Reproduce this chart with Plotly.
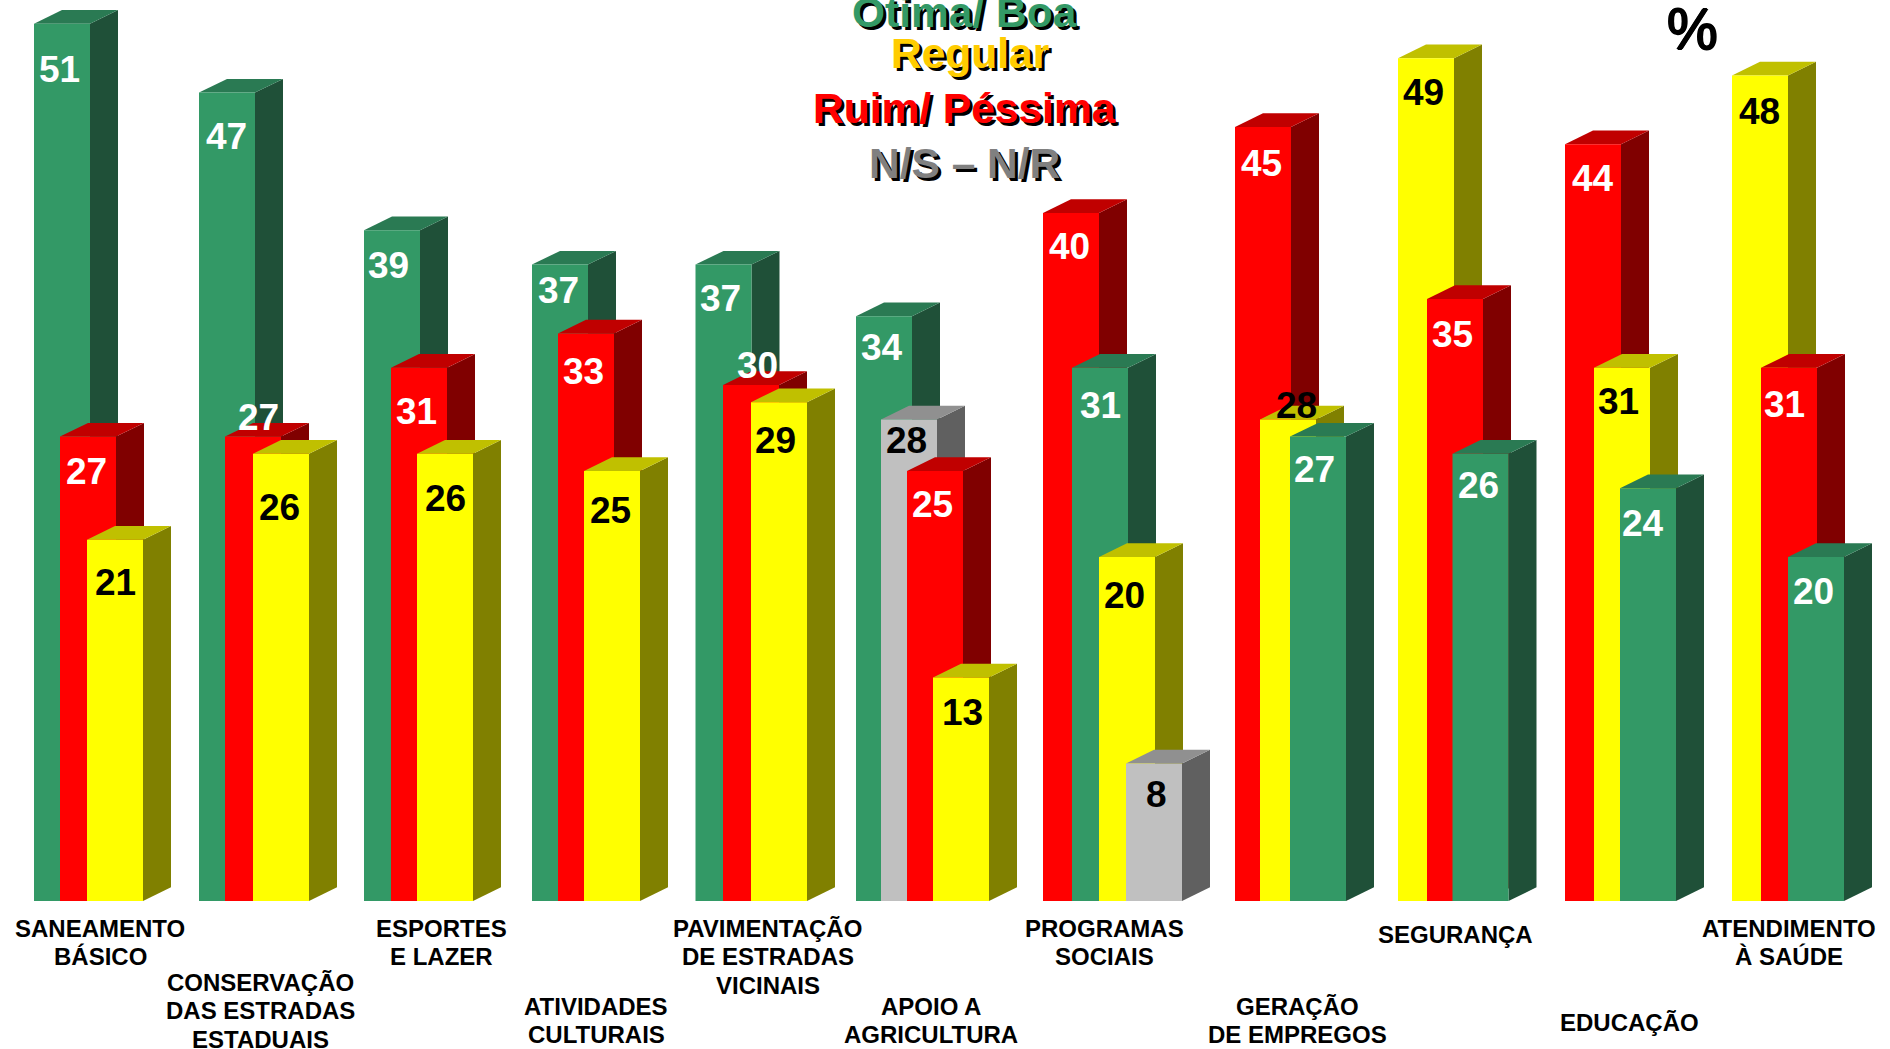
import plotly.graph_objects as go

categories = [
    "SANEAMENTO<br>BÁSICO", "CONSERVAÇÃO<br>DAS ESTRADAS<br>ESTADUAIS", "ESPORTES<br>E LAZER",
    "ATIVIDADES<br>CULTURAIS", "PAVIMENTAÇÃO<br>DE ESTRADAS<br>VICINAIS", "APOIO A<br>AGRICULTURA",
    "PROGRAMAS<br>SOCIAIS", "GERAÇÃO<br>DE EMPREGOS", "SEGURANÇA", "EDUCAÇÃO", "ATENDIMENTO<br>À SAÚDE",
]
otima = [51, 47, 39, 37, 37, 34, 31, 27, 26, 24, 20]
regular = [21, 26, 26, 25, 29, 13, 20, 28, 49, 31, 48]
ruim = [27, 27, 31, 33, 30, 25, 40, 45, 35, 44, 31]
ns_nr = [None, None, None, None, None, 28, 8, None, None, None, None]

series_names = ["Otima/ Boa", "Regular", "Ruim/ Péssima", "N/S – N/R"]
series_values = [otima, regular, ruim, ns_nr]
front_colors = ["#339966", "#FFFF00", "#FF0000", "#C0C0C0"]
side_colors = ["#1F5038", "#808000", "#800000", "#606060"]
top_colors = ["#2A7A53", "#C0C000", "#C00000", "#909090"]
label_colors = ["white", "black", "white", "black"]

# layout (pixels in the 1890x1049 frame)
W, H = 1890, 1049
BASE_PX = 901
PX_PER_UNIT = 17.2
BAR_W = 56
DEPTH_X = 28
DEPTH_Y = 13.7 / PX_PER_UNIT

# left edge of each bar in a group, front-to-back drawing order is tallest first
group_lefts = [
    [34, 60, 87], [199, 225, 253], [364, 391, 417], [532, 558, 584], [695.5, 723, 751],
    [856, 881, 907, 933], [1043, 1072, 1099, 1126], [1235, 1260, 1290],
    [1398, 1427, 1452.5], [1565, 1594, 1620], [1732, 1761, 1788],
]
# label centres in pixels, same order as the bars in each group
group_label_px = [
    [(59, 69), (86.5, 471), (115.5, 582)],
    [(226.5, 136), (258.5, 417), (279.5, 507)],
    [(388, 265.5), (416.5, 411), (445.5, 498)],
    [(558.5, 290.5), (583.5, 371.5), (610.5, 510)],
    [(720.5, 298), (757.5, 365.5), (775.5, 440)],
    [(882, 347.5), (906.5, 440), (932.5, 504), (962.5, 712.5)],
    [(1069, 246), (1100, 405), (1124.5, 595.5), (1156.5, 794)],
    [(1261, 163), (1296.5, 405), (1314.5, 469)],
    [(1423.5, 92), (1452, 334), (1478, 485)],
    [(1592.5, 178), (1618.5, 401), (1643, 523.5)],
    [(1759.5, 111), (1784.5, 404), (1813, 591)],
]
category_px = [
    (100, 928), (260.5, 982), (441.5, 928), (596, 1006), (767.5, 928), (931, 1006),
    (1104.5, 928), (1297, 1006), (1455, 934), (1629, 1022), (1789, 928),
]
LINE_PX = 28.7
legend_px = [(964, 12), (970, 53), (964, 108), (964, 163)]
legend_colors = ["#339966", "#FFCC00", "#FF0000", "#808080"]

FONT = "Liberation Sans"


def yval(px):
    return (BASE_PX - px) / PX_PER_UNIT


fig = go.Figure()
annotations = []


def poly(xs, ys, color):
    fig.add_trace(go.Scatter(x=xs, y=ys, mode="lines", fill="toself", fillcolor=color,
                             line=dict(width=0), hoverinfo="skip", showlegend=False))


for g in range(len(categories)):
    bars = [(vals[g], s) for s, vals in enumerate(series_values) if vals[g] is not None]
    bars.sort(key=lambda b: -b[0])
    for (v, s), left, (lx, ly) in zip(bars, group_lefts[g], group_label_px[g]):
        right = left + BAR_W
        poly([right, right + DEPTH_X, right + DEPTH_X, right, right],
             [0, DEPTH_Y, v + DEPTH_Y, v, 0], side_colors[s])
        poly([left, right, right + DEPTH_X, left + DEPTH_X, left],
             [v, v, v + DEPTH_Y, v + DEPTH_Y, v], top_colors[s])
        poly([left, right, right, left, left], [0, 0, v, v, 0], front_colors[s])
        annotations.append(dict(x=lx, y=yval(ly), text=f"<b>{v}</b>", showarrow=False, xanchor="center",
                                yanchor="middle", font=dict(family=FONT, size=37, color=label_colors[s])))
    cx, cy = category_px[g]
    for i, line in enumerate(categories[g].split("<br>")):
        annotations.append(dict(x=cx, y=yval(cy + i * LINE_PX), text=f"<b>{line}</b>", showarrow=False,
                                xanchor="center", yanchor="middle",
                                font=dict(family=FONT, size=24, color="black")))

for name, (lx, ly), col in zip(series_names, legend_px, legend_colors):
    annotations.append(dict(x=lx + 3, y=yval(ly + 3), text=f"<b>{name}</b>", showarrow=False,
                            xanchor="center", yanchor="middle",
                            font=dict(family=FONT, size=42.5, color="black")))
    annotations.append(dict(x=lx, y=yval(ly), text=f"<b>{name}</b>", showarrow=False,
                            xanchor="center", yanchor="middle",
                            font=dict(family=FONT, size=42.5, color=col)))
annotations.append(dict(x=1692, y=yval(29), text="%", showarrow=False, xanchor="center",
                        yanchor="middle",
                        font=dict(family=FONT, size=57, color="black",
                                  shadow="1px 0 0 #000, -1px 0 0 #000, 0 1px 0 #000, 0 -1px 0 #000")))

fig.update_layout(
    width=W, height=H, margin=dict(l=0, r=0, t=0, b=0),
    paper_bgcolor="white", plot_bgcolor="white", showlegend=False,
    xaxis=dict(range=[0, W], visible=False, fixedrange=True),
    yaxis=dict(range=[yval(H), yval(0)], visible=False, fixedrange=True),
    annotations=annotations,
)
fig.write_html("out.html", config={"displayModeBar": False},
               post_script="document.body.style.margin='0';document.body.style.overflow='hidden';")
